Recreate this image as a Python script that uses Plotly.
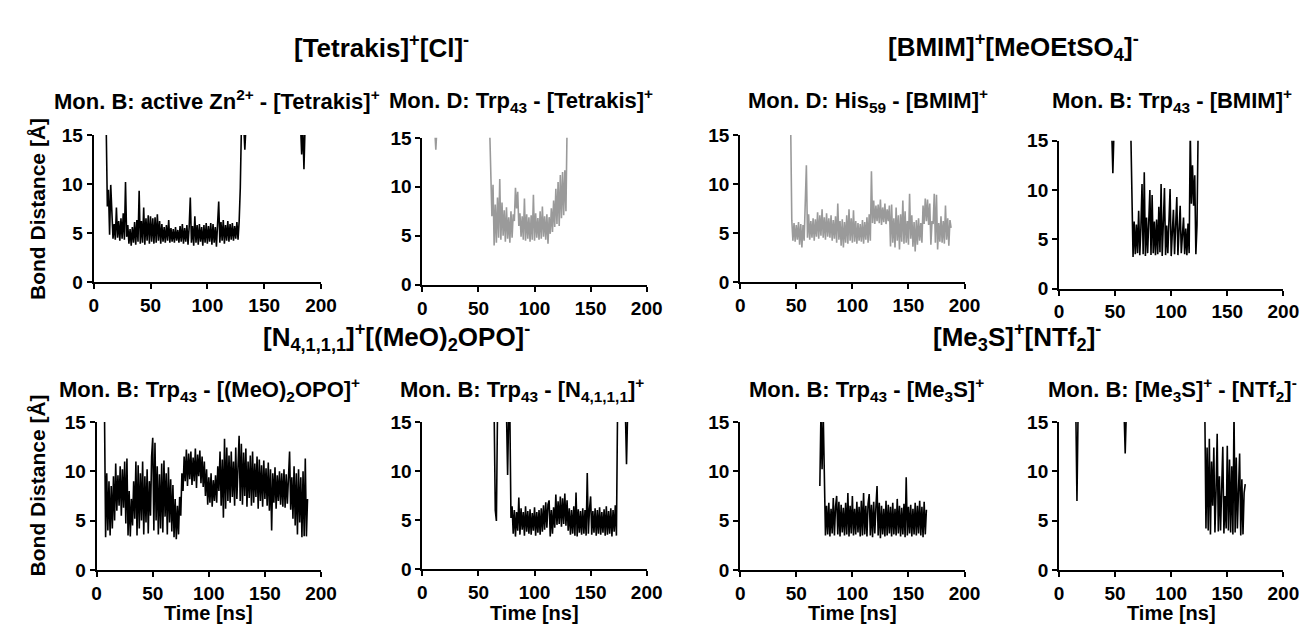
import plotly.graph_objects as go

# ---------------- data (time step 1 ns; values in Å; >15 = off-scale) ----------------
STEP_NS = 1.0

zn_tet_starts = [11, 132, 182]
zn_tet_values = [
    [16, 7.7, 9.4, 4.8, 9.9, 6.3, 4.4, 5.9, 4.3, 7.6,
     4.5, 6.2, 4.2, 6.5, 4.4, 7.0, 4.3, 10.2, 4.6, 5.8,
     3.9, 5.4, 3.7, 5.6, 4.0, 6.1, 3.8, 6.3, 4.1, 9.3,
     3.9, 6.2, 4.0, 7.6, 3.8, 6.5, 4.2, 6.8, 3.9, 6.7,
     4.1, 6.5, 3.9, 6.6, 4.0, 6.9, 4.2, 6.2, 3.9, 5.9,
     4.1, 5.6, 4.0, 5.8, 4.2, 6.3, 4.0, 5.5, 4.1, 5.4,
     4.0, 5.6, 4.2, 5.3, 4.0, 5.7, 4.1, 5.9, 3.9, 5.5,
     4.1, 5.8, 3.8, 5.6, 8.6, 4.0, 5.7, 3.7, 6.7, 4.0,
     5.8, 3.8, 5.9, 4.1, 5.6, 3.7, 5.8, 4.0, 6.0, 3.9,
     5.7, 4.1, 6.0, 3.8, 5.9, 4.0, 5.6, 3.6, 5.8, 8.2,
     4.0, 6.1, 4.2, 6.3, 3.9, 5.8, 4.2, 6.2, 4.1, 5.9,
     4.3, 6.0, 4.2, 5.7, 4.4, 6.1, 4.3, 6.2, 9.6, 16],
    [16, 13.5, 16],
    [16, 13.0, 16, 11.5, 16],
]

trp_tet_starts = [11, 60]
trp_tet_values = [
    [16, 13.8, 16],
    [16, 12.0, 7.0, 10.2, 4.0, 8.2, 4.3, 8.9, 4.8, 10.8,
     4.6, 8.4, 5.0, 7.6, 4.4, 7.9, 4.7, 6.9, 4.3, 7.5,
     4.8, 7.2, 6.5, 9.9, 7.8, 9.5, 6.0, 7.3, 4.9, 7.0,
     4.6, 8.8, 4.5, 7.2, 4.7, 6.9, 4.4, 7.1, 4.6, 9.2,
     4.5, 7.3, 4.8, 6.8, 4.6, 7.5, 4.7, 8.0, 4.9, 7.0,
     4.6, 7.2, 4.2, 6.9, 5.2, 7.8, 5.4, 8.6, 5.9, 9.8,
     6.2, 10.5, 6.0, 11.2, 6.8, 11.5, 7.1, 11.7, 7.5, 16],
]

his_bmim_starts = [45]
his_bmim_values = [
    [16, 6.3, 4.2, 6.0, 4.1, 5.8, 4.3, 6.1, 3.8, 5.9,
     3.5, 5.8, 4.2, 7.6, 11.9, 4.5, 6.9, 4.3, 6.2, 4.5,
     6.5, 4.2, 6.4, 4.6, 7.1, 4.4, 6.8, 4.7, 7.4, 4.5,
     6.6, 4.3, 7.0, 4.6, 6.5, 4.5, 6.8, 4.2, 6.3, 4.4,
     6.7, 4.0, 8.0, 4.3, 6.2, 3.7, 6.4, 3.5, 6.1, 4.0,
     6.8, 3.9, 7.4, 4.2, 6.5, 4.0, 7.3, 4.1, 6.2, 3.9,
     6.0, 4.2, 5.9, 4.1, 6.3, 3.9, 6.1, 4.3, 6.6, 4.0,
     6.9, 4.2, 11.3, 6.0, 8.3, 5.9, 7.8, 6.2, 7.9, 6.0,
     8.4, 5.8, 7.6, 6.1, 8.0, 5.9, 7.4, 6.2, 7.8, 3.6,
     7.9, 4.0, 6.5, 3.5, 7.6, 4.2, 6.8, 3.3, 6.9, 4.1,
     8.3, 3.9, 7.2, 4.0, 6.2, 3.8, 9.0, 4.4, 6.8, 3.6,
     6.1, 3.1, 6.3, 3.8, 6.5, 4.2, 6.0, 4.0, 7.8, 5.9,
     8.5, 6.2, 8.4, 5.8, 8.0, 3.8, 6.2, 5.9, 9.0, 4.0,
     8.9, 3.3, 6.0, 4.1, 6.7, 4.0, 6.2, 3.9, 7.8, 4.3,
     6.5, 3.7, 6.3, 5.5],
]

trp_bmim_starts = [47, 64]
trp_bmim_values = [
    [16, 11.7, 16],
    [16, 8.0, 3.2, 6.8, 3.5, 6.5, 3.6, 7.9, 3.4, 6.2,
     10.6, 3.5, 11.8, 3.3, 7.2, 3.6, 6.5, 10.0, 3.4, 9.5,
     3.6, 6.8, 3.4, 7.0, 3.5, 8.3, 3.7, 10.6, 3.3, 6.9,
     10.2, 3.4, 6.4, 3.6, 7.1, 10.1, 3.3, 6.8, 8.0, 3.5,
     7.0, 9.3, 3.4, 6.5, 8.4, 3.6, 6.3, 7.2, 3.5, 6.1,
     3.4, 6.6, 3.6, 16, 8.6, 12.5, 8.4, 11.5, 3.5, 6.4, 16],
]

opo_starts = [7]
opo_values = [
    [16, 3.3, 9.8, 4.0, 9.0, 3.5, 8.5, 4.2, 9.5, 5.0,
     10.8, 6.0, 9.6, 6.5, 10.5, 5.5, 10.2, 6.3, 11.0, 4.7,
     11.3, 3.5, 8.0, 3.4, 7.2, 4.5, 9.0, 5.2, 11.0, 3.5,
     10.6, 4.2, 9.8, 5.0, 11.0, 3.6, 9.5, 4.8, 10.2, 3.7,
     9.0, 5.5, 11.5, 13.4, 4.0, 12.9, 5.0, 10.5, 3.6, 9.7,
     4.2, 10.8, 3.8, 11.1, 5.4, 9.8, 3.6, 10.4, 4.8, 9.2,
     3.9, 8.6, 3.3, 7.2, 3.1, 6.5, 3.6, 7.4, 5.5, 9.8,
     8.0, 11.5, 9.0, 12.2, 8.5, 11.8, 9.2, 12.0, 8.6, 11.4,
     9.0, 12.3, 8.3, 11.7, 9.5, 12.1, 8.8, 11.5, 8.4, 11.0,
     7.5, 10.2, 6.6, 9.4, 6.8, 9.8, 6.4, 9.1, 7.0, 9.6,
     6.8, 10.5, 8.0, 12.0, 6.5, 11.2, 5.3, 13.3, 6.2, 12.4,
     7.0, 11.6, 6.8, 12.0, 7.4, 11.0, 6.5, 12.4, 7.2, 11.8,
     13.6, 7.0, 12.8, 6.6, 11.9, 7.5, 12.3, 6.4, 11.0, 7.3,
     11.6, 6.5, 12.0, 6.8, 10.8, 7.4, 11.5, 6.2, 11.2, 7.0,
     10.6, 6.4, 11.1, 7.2, 10.3, 6.5, 10.9, 6.0, 10.2, 4.0,
     9.8, 6.8, 10.4, 6.2, 9.6, 7.0, 10.0, 6.6, 9.8, 6.4,
     10.2, 6.3, 9.7, 6.7, 10.1, 12.0, 6.1, 9.4, 5.2, 10.5,
     4.5, 9.8, 3.6, 10.2, 4.8, 9.4, 3.3, 10.0, 3.4, 11.3,
     3.4, 7.2],
]

n4111_starts = [64, 75, 181]
n4111_values = [
    [16, 6.0, 4.9, 16],
    [16, 9.6, 16, 16, 5.2, 6.4, 3.6, 6.0, 3.3, 5.8,
     3.9, 7.3, 3.5, 6.2, 4.0, 5.8, 3.4, 6.4, 3.8, 5.9,
     3.6, 6.1, 3.5, 5.7, 3.9, 6.3, 3.4, 5.8, 3.7, 6.0,
     3.5, 6.2, 3.8, 6.5, 4.0, 6.8, 4.2, 6.6, 7.0, 3.3,
     6.0, 3.6, 6.3, 4.2, 7.6, 4.5, 6.9, 4.6, 7.4, 4.3,
     7.2, 4.6, 7.7, 4.4, 7.0, 3.9, 6.2, 3.5, 6.0, 3.6,
     6.4, 3.4, 7.8, 3.3, 6.1, 3.7, 5.9, 3.5, 6.2, 3.6,
     6.0, 3.4, 9.8, 3.6, 6.1, 7.4, 3.5, 5.9, 3.7, 6.2,
     3.4, 6.0, 3.6, 6.3, 3.5, 5.8, 3.7, 6.1, 3.4, 6.4,
     3.5, 5.9, 3.6, 6.2, 3.3, 6.0, 3.8, 6.5, 3.4, 16],
    [16, 10.7, 16],
]

me3s_starts = [71]
me3s_values = [
    [8.5, 16, 10.2, 16, 9.8, 3.5, 6.5, 3.6, 6.8, 3.4,
     6.2, 3.7, 7.3, 3.5, 6.4, 7.5, 3.6, 6.9, 3.4, 6.6,
     3.8, 6.3, 3.5, 6.8, 3.6, 7.8, 3.4, 6.5, 3.7, 7.5,
     3.5, 6.2, 3.6, 6.9, 3.8, 6.4, 3.4, 7.0, 3.5, 7.8,
     3.6, 6.5, 3.4, 6.7, 7.7, 3.5, 6.6, 3.3, 6.9, 3.7,
     6.4, 8.5, 3.5, 6.8, 3.2, 6.5, 3.6, 6.2, 3.4, 7.0,
     3.5, 6.6, 3.7, 6.4, 3.4, 6.8, 3.6, 6.2, 3.5, 7.2,
     3.7, 6.5, 3.4, 6.3, 3.6, 6.7, 3.3, 9.4, 3.5, 6.4,
     3.7, 6.6, 3.4, 6.2, 3.6, 6.8, 3.5, 6.5, 3.7, 7.0,
     3.5, 6.4, 3.3, 6.9, 3.6, 6.1],
]

ntf2_starts = [15, 58, 130]
ntf2_values = [
    [16, 7.0, 16],
    [16, 11.8, 16],
    [16, 4.2, 12.4, 4.0, 13.3, 3.6, 11.0, 6.5, 12.4, 3.8,
     8.0, 13.8, 3.9, 9.5, 4.0, 8.8, 12.5, 3.7, 7.5, 4.2,
     12.6, 4.0, 11.2, 3.8, 10.5, 3.6, 16, 3.8, 11.4, 4.2,
     8.5, 11.8, 3.5, 9.2, 3.6, 7.8, 8.7],
]

panel_titles = [
    "Mon. B: active Zn<sup>2+</sup> - [Tetrakis]<sup>+</sup>",
    "Mon. D: Trp<sub>43</sub> - [Tetrakis]<sup>+</sup>",
    "Mon. D: His<sub>59</sub> - [BMIM]<sup>+</sup>",
    "Mon. B: Trp<sub>43</sub> - [BMIM]<sup>+</sup>",
    "Mon. B: Trp<sub>43</sub> - [(MeO)<sub>2</sub>OPO]<sup>+</sup>",
    "Mon. B: Trp<sub>43</sub> - [N<sub>4,1,1,1</sub>]<sup>+</sup>",
    "Mon. B: Trp<sub>43</sub> - [Me<sub>3</sub>S]<sup>+</sup>",
    "Mon. B: [Me<sub>3</sub>S]<sup>+</sup> - [NTf<sub>2</sub>]<sup>-</sup>",
]
group_titles = [
    "[Tetrakis]<sup>+</sup>[Cl]<sup>-</sup>",
    "[BMIM]<sup>+</sup>[MeOEtSO<sub>4</sub>]<sup>-</sup>",
    "[N<sub>4,1,1,1</sub>]<sup>+</sup>[(MeO)<sub>2</sub>OPO]<sup>-</sup>",
    "[Me<sub>3</sub>S]<sup>+</sup>[NTf<sub>2</sub>]<sup>-</sup>",
]
x_ticks = [0, 50, 100, 150, 200]
y_ticks = [0, 5, 10, 15]
y_title = "Bond Distance [Å]"
x_title = "Time [ns]"

series = [
    (zn_tet_starts, zn_tet_values, "#000000"),
    (trp_tet_starts, trp_tet_values, "#9a9a9a"),
    (his_bmim_starts, his_bmim_values, "#9a9a9a"),
    (trp_bmim_starts, trp_bmim_values, "#000000"),
    (opo_starts, opo_values, "#000000"),
    (n4111_starts, n4111_values, "#000000"),
    (me3s_starts, me3s_values, "#000000"),
    (ntf2_starts, ntf2_values, "#000000"),
]

# ---------------- layout geometry (pixels in the 1314x627 canvas) ----------------
W, H = 1314, 627

def px_x(px):
    return px / W

def px_y(py):
    return 1 - py / H

# (x_left, x_right, y_top, y_bottom) of each plotting area
boxes = [
    (82, 313, 121, 273), (416, 644, 124, 276), (739, 967, 121, 273), (1063, 1291, 127, 280),
    (85, 313, 418, 571), (416, 644, 418, 570), (739, 967, 418, 571), (1063, 1291, 418, 571),
]
title_pos = [(207, 85), (516, 85), (869, 85), (1178, 85),
             (200, 384), (517, 384), (867, 384), (1178, 384)]
group_pos = [(374, 30), (1017, 30), (390, 330), (1020, 330)]
ytitle_pos = [(25, 198), (25, 484)]

FONT = "Liberation Sans, Arial, sans-serif"

fig = go.Figure()
for i, (starts, vals, color) in enumerate(series):
    xs, ys = [], []
    for s, seg in zip(starts, vals):
        xs += [s + k * STEP_NS for k in range(len(seg))] + [None]
        ys += list(seg) + [None]
    ax = "" if i == 0 else str(i + 1)
    fig.add_trace(go.Scatter(x=xs, y=ys, mode="lines", line=dict(color=color, width=1.6),
                             xaxis="x" + ax, yaxis="y" + ax, showlegend=False,
                             connectgaps=False, hoverinfo="skip"))

tickfont = dict(family=FONT, size=19, color="black", weight="bold")
layout = dict(width=W, height=H, margin=dict(l=0, r=0, t=0, b=0),
              paper_bgcolor="white", plot_bgcolor="white", showlegend=False)
for i, (x0, x1, y0, y1) in enumerate(boxes):
    ax = "" if i == 0 else str(i + 1)
    layout["xaxis" + ax] = dict(domain=[px_x(x0), px_x(x1)], range=[0, 200], tickvals=x_ticks,
                                anchor="y" + ax, showline=True, linewidth=2, linecolor="black",
                                ticks="outside", ticklen=5, tickwidth=2, tickcolor="black",
                                showgrid=False, zeroline=False, tickfont=tickfont)
    layout["yaxis" + ax] = dict(domain=[px_y(y1), px_y(y0)], range=[0, 15], tickvals=y_ticks,
                                anchor="x" + ax, showline=True, linewidth=2, linecolor="black",
                                ticks="outside", ticklen=5, tickwidth=2, tickcolor="black",
                                showgrid=False, zeroline=False, tickfont=tickfont)
fig.update_layout(**layout)

ann = []
for t, (px, py) in zip(panel_titles, title_pos):
    ann.append(dict(text=t, x=px_x(px), y=px_y(py), xref="paper", yref="paper",
                    xanchor="center", yanchor="middle", showarrow=False,
                    font=dict(family=FONT, size=22, color="black", weight="bold")))
for t, (px, py) in zip(group_titles, group_pos):
    ann.append(dict(text=t, x=px_x(px), y=px_y(py), xref="paper", yref="paper",
                    xanchor="center", yanchor="middle", showarrow=False,
                    font=dict(family=FONT, size=26, color="black", weight="bold")))
for (px, py) in ytitle_pos:
    ann.append(dict(text=y_title, x=px_x(px), y=px_y(py), xref="paper", yref="paper",
                    xanchor="center", yanchor="middle", showarrow=False, textangle=-90,
                    font=dict(family=FONT, size=21, color="black", weight="bold")))
for (x0, x1, y0, y1) in boxes[4:]:
    ann.append(dict(text=x_title, x=px_x((x0 + x1) / 2), y=px_y(616), xref="paper", yref="paper",
                    xanchor="center", yanchor="middle", showarrow=False,
                    font=dict(family=FONT, size=20, color="black", weight="bold")))
fig.update_layout(annotations=ann)

fig.write_html("out.html")
